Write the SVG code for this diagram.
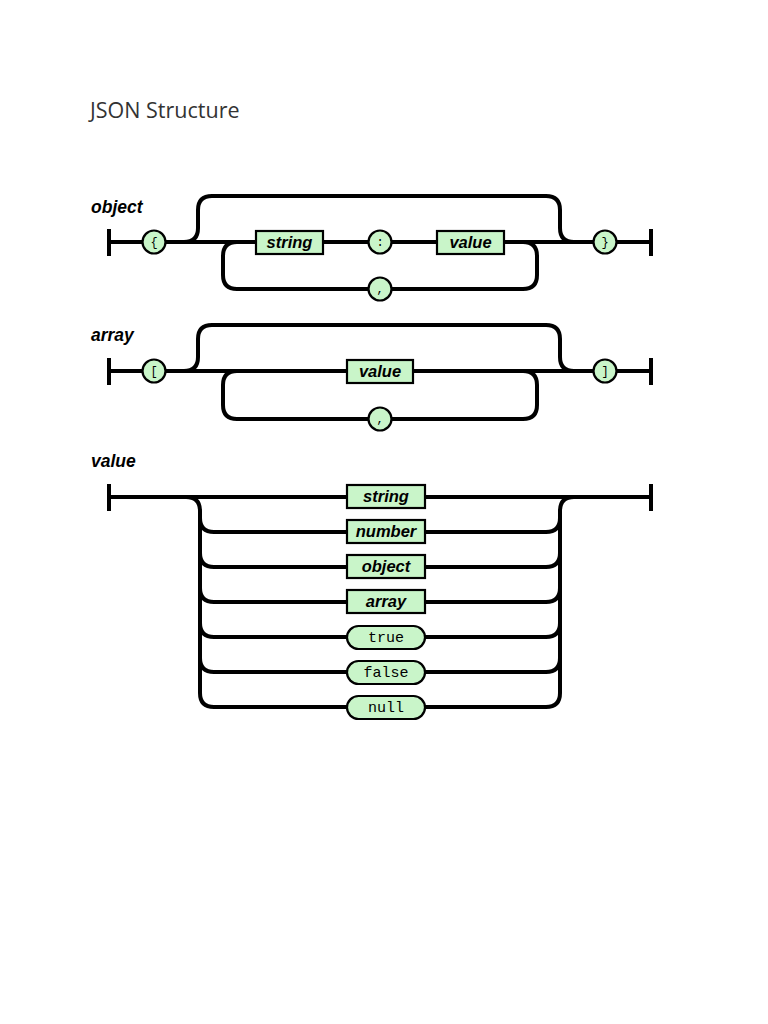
<svg xmlns="http://www.w3.org/2000/svg" width="768" height="1024" viewBox="0 0 768 1024">
<style>
.track{fill:none;stroke:#000;stroke-width:4;stroke-linecap:butt}
.bar{stroke:#000;stroke-width:4}
.box{fill:#c9f5c9;stroke:#000;stroke-width:2.2}
.lbl{font-family:"Liberation Sans",Arial,sans-serif;font-weight:bold;font-style:italic;font-size:17.5px;fill:#000}
.bt{font-family:"Liberation Sans",Arial,sans-serif;font-weight:bold;font-style:italic;font-size:16.5px;fill:#000;text-anchor:middle}
.ct{font-family:"Liberation Mono",monospace;font-size:12px;fill:#000;text-anchor:middle}
.mt{font-family:"Liberation Mono",monospace;font-size:15px;fill:#000;text-anchor:middle}
.title{font-family:"Open Sans","Noto Sans",sans-serif;font-size:21.5px;fill:#333}
</style>
<rect width="768" height="1024" fill="#fff"/>
<text class="title" x="90" y="118">JSON Structure</text>
<text class="lbl" x="91" y="213">object</text>
<text class="lbl" x="91" y="341">array</text>
<text class="lbl" x="91" y="467">value</text>
<g id="connectors">
<line class="bar" x1="109" y1="229" x2="109" y2="256"/>
<line class="bar" x1="651" y1="229" x2="651" y2="256"/>
<line class="track" x1="109" y1="242" x2="651" y2="242"/>
<path class="track" d="M184,242 Q198,242 198,228 L198,210 Q198,196 212,196 L546,196 Q560,196 560,210 L560,228 Q560,242 574,242"/>
<path class="track" d="M237,242 Q223,242 223,256 L223,275 Q223,289 237,289 L523,289 Q537,289 537,275 L537,256 Q537,242 523,242"/>
<line class="bar" x1="109" y1="358" x2="109" y2="385"/>
<line class="bar" x1="651" y1="358" x2="651" y2="385"/>
<line class="track" x1="109" y1="371" x2="651" y2="371"/>
<path class="track" d="M184,371 Q198,371 198,357 L198,339 Q198,325 212,325 L546,325 Q560,325 560,339 L560,357 Q560,371 574,371"/>
<path class="track" d="M237,371 Q223,371 223,385 L223,405 Q223,419 237,419 L523,419 Q537,419 537,405 L537,385 Q537,371 523,371"/>
<line class="bar" x1="109" y1="484" x2="109" y2="511"/>
<line class="bar" x1="651" y1="484" x2="651" y2="511"/>
<line class="track" x1="109" y1="497" x2="651" y2="497"/>
<path class="track" d="M186,497 Q200,497 200,511 L200,693 Q200,707 214,707 L546,707 Q560,707 560,693 L560,511 Q560,497 574,497"/>
<path class="track" d="M200,518 Q200,532 214,532 L546,532 Q560,532 560,518"/>
<path class="track" d="M200,553 Q200,567 214,567 L546,567 Q560,567 560,553"/>
<path class="track" d="M200,588 Q200,602 214,602 L546,602 Q560,602 560,588"/>
<path class="track" d="M200,623 Q200,637 214,637 L546,637 Q560,637 560,623"/>
<path class="track" d="M200,658 Q200,672 214,672 L546,672 Q560,672 560,658"/>
</g>
<g id="obj-open"><circle class="box" cx="154" cy="242" r="11.5"/><text class="ct" x="154" y="246">{</text></g>
<g id="obj-string"><rect class="box" x="256" y="231" width="67" height="23"/><text class="bt" x="289.5" y="248">string</text></g>
<g id="obj-colon"><circle class="box" cx="380" cy="242" r="11.5"/><text class="ct" x="380" y="246">:</text></g>
<g id="obj-value"><rect class="box" x="437" y="231" width="67" height="23"/><text class="bt" x="470.5" y="248">value</text></g>
<g id="obj-comma"><circle class="box" cx="380" cy="289" r="11.5"/><text class="ct" x="380" y="293">,</text></g>
<g id="obj-close"><circle class="box" cx="605" cy="242" r="11.5"/><text class="ct" x="605" y="246">}</text></g>
<g id="arr-open"><circle class="box" cx="154" cy="371" r="11.5"/><text class="ct" x="154" y="375">[</text></g>
<g id="arr-value"><rect class="box" x="347" y="360" width="66" height="23"/><text class="bt" x="380" y="377">value</text></g>
<g id="arr-comma"><circle class="box" cx="380" cy="419" r="11.5"/><text class="ct" x="380" y="423">,</text></g>
<g id="arr-close"><circle class="box" cx="605" cy="371" r="11.5"/><text class="ct" x="605" y="375">]</text></g>
<g id="val-string"><rect class="box" x="347" y="485" width="78" height="23"/><text class="bt" x="386" y="502">string</text></g>
<g id="val-number"><rect class="box" x="347" y="520" width="78" height="23"/><text class="bt" x="386" y="537">number</text></g>
<g id="val-object"><rect class="box" x="347" y="555" width="78" height="23"/><text class="bt" x="386" y="572">object</text></g>
<g id="val-array"><rect class="box" x="347" y="590" width="78" height="23"/><text class="bt" x="386" y="607">array</text></g>
<g id="val-true"><rect class="box" x="347" y="626" width="78" height="23" rx="11.5"/><text class="mt" x="386" y="642">true</text></g>
<g id="val-false"><rect class="box" x="347" y="661" width="78" height="23" rx="11.5"/><text class="mt" x="386" y="677">false</text></g>
<g id="val-null"><rect class="box" x="347" y="696" width="78" height="23" rx="11.5"/><text class="mt" x="386" y="712">null</text></g>
</svg>
